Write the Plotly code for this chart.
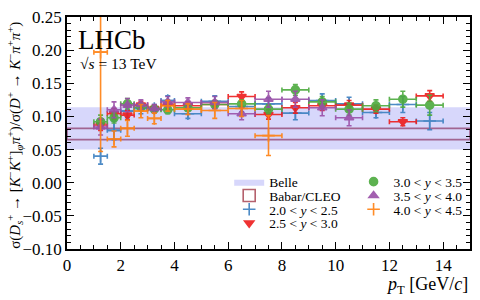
import plotly.graph_objects as go

# pT bins
bin_lo = [1.0, 1.5, 2.0, 2.5, 3.0, 3.5, 4, 5, 6, 7, 8, 9, 10, 11, 12, 13]
bin_hi = [1.5, 2.0, 2.5, 3.0, 3.5, 4.0, 5, 6, 7, 8, 9, 10, 11, 12, 13, 14]

# ratio values per rapidity bin (None = not measured)
y20_25 = [0.040, 0.079, 0.108, 0.112, 0.112, 0.124, 0.104, 0.123, 0.115, 0.119, 0.105, 0.124, 0.119, 0.106, 0.118, 0.093]
e20_25 = [0.012, 0.014, 0.010, 0.008, 0.006, 0.007, 0.007, 0.008, 0.008, 0.009, 0.010, 0.010, 0.010, 0.008, 0.012, 0.013]
y25_30 = [0.087, 0.104, 0.102, 0.117, 0.112, 0.117, 0.116, 0.118, 0.130, 0.103, 0.113, 0.116, 0.117, 0.111, 0.092, 0.131]
e25_30 = [0.008, 0.008, 0.007, 0.006, 0.005, 0.006, 0.006, 0.006, 0.007, 0.007, 0.008, 0.007, 0.007, 0.006, 0.006, 0.008]
y30_35 = [0.092, 0.098, 0.119, 0.114, 0.111, 0.110, 0.113, 0.118, 0.119, 0.111, 0.140, 0.122, 0.111, 0.116, 0.126, 0.117]
e30_35 = [0.010, 0.008, 0.008, 0.005, 0.005, 0.006, 0.005, 0.006, 0.006, 0.007, 0.008, 0.008, 0.009, 0.009, 0.012, 0.015]
y35_40 = [0.084, 0.110, 0.117, 0.118, 0.112, 0.122, 0.121, 0.121, 0.104, 0.126, 0.126, 0.113, 0.098, None, None, None]
e35_40 = [0.012, 0.012, 0.010, 0.007, 0.006, 0.008, 0.007, 0.009, 0.009, 0.012, 0.012, 0.012, 0.012, None, None, None]
y40_45 = [0.197, 0.066, 0.082, 0.108, 0.097, 0.116, 0.111, 0.109, 0.112, 0.071, None, None, None, None, None, None]
e40_45 = [0.150, 0.012, 0.012, 0.010, 0.008, 0.008, 0.008, 0.012, 0.012, 0.030, None, None, None, None, None, None]

# reference measurements (bands)
band_x = [0.0, 15.0]
belle_lo, belle_hi = 0.050, 0.114
babar_lo, babar_hi = 0.065, 0.082

x_range = [0, 15]
y_range = [-0.10, 0.25]

FONT = "Liberation Serif, Times New Roman, serif"

fig = go.Figure()

# Belle band
fig.add_trace(go.Scatter(
    x=[band_x[0], band_x[1], band_x[1], band_x[0], band_x[0]],
    y=[belle_lo, belle_lo, belle_hi, belle_hi, belle_lo],
    fill="toself", fillcolor="rgba(110,110,240,0.28)", mode="lines",
    line=dict(width=0, color="rgba(110,110,240,0.28)"),
    name="Belle", legend="legend", hoverinfo="skip"))
# Babar/CLEO band (outline box)
fig.add_trace(go.Bar(
    x=[(band_x[0] + band_x[1]) / 2], y=[babar_hi - babar_lo], base=[babar_lo],
    width=[band_x[1] - band_x[0]],
    marker=dict(color="rgba(0,0,0,0)", line=dict(width=1.6, color="#b5616d")),
    name="Babar/CLEO", legend="legend2", hoverinfo="skip"))

centers = [(a + b) / 2 for a, b in zip(bin_lo, bin_hi)]
halfw = [(b - a) / 2 for a, b in zip(bin_lo, bin_hi)]

series = [
    ("2.0 &lt; <i>y</i> &lt; 2.5", y20_25, e20_25, "#3a7fc0", "cross-thin", 9, "legend3"),
    ("2.5 &lt; <i>y</i> &lt; 3.0", y25_30, e25_30, "#ee1c1c", "triangle-down", 8, "legend4"),
    ("3.0 &lt; <i>y</i> &lt; 3.5", y30_35, e30_35, "#4caa3e", "circle", 8, "legend5"),
    ("3.5 &lt; <i>y</i> &lt; 4.0", y35_40, e35_40, "#9a4fa8", "triangle-up", 8, "legend6"),
    ("4.0 &lt; <i>y</i> &lt; 4.5", y40_45, e40_45, "#ff8010", "cross-thin", 9, "legend7"),
]

for name, ys, es, col, sym, sz, lg in series:
    xs = [c for c, v in zip(centers, ys) if v is not None]
    xe = [h for h, v in zip(halfw, ys) if v is not None]
    yv = [v for v in ys if v is not None]
    ye = [e for e, v in zip(es, ys) if v is not None]
    fig.add_trace(go.Scatter(
        x=xs, y=yv, mode="markers", name=name, legend=lg,
        marker=dict(symbol=sym, size=sz, color=col, line=dict(width=1.6, color=col)),
        error_x=dict(type="data", array=xe, color=col, thickness=1.6, width=2.5),
        error_y=dict(type="data", array=ye, color=col, thickness=1.6, width=2.5),
        opacity=0.9))

axis_common = dict(
    showline=True, linecolor="black", linewidth=1.5, mirror="ticks",
    ticks="inside", ticklen=7, tickwidth=1.2, tickcolor="black",
    showgrid=False, zeroline=False,
    tickfont=dict(family=FONT, size=17, color="black"),
)

fig.update_xaxes(range=x_range, dtick=2, tick0=0,
                 minor=dict(ticks="inside", ticklen=4, dtick=0.5, tickcolor="black", showgrid=False),
                 **axis_common)
fig.update_yaxes(range=y_range, dtick=0.05, tick0=0, tickformat=".2f",
                 minor=dict(ticks="inside", ticklen=4, dtick=0.01, tickcolor="black", showgrid=False),
                 **axis_common)

L, T, B, R = 67, 14, 51, 8
W, H = 480, 300
PW, PH = W - L - R, H - T - B


def px_x(p):
    return (p - L) / PW


def px_y(p):
    return (H - B - p) / PH


legend_font = dict(family=FONT, size=13.5, color="black")
leg_pos = {
    "legend": (230, 181), "legend2": (230, 195), "legend3": (230, 209), "legend4": (230, 223),
    "legend5": (355, 181), "legend6": (355, 195), "legend7": (355, 209),
}
legends = {}
for key, (lx, ly) in leg_pos.items():
    legends[key] = dict(x=px_x(lx), y=px_y(ly), xanchor="left", yanchor="middle",
                        bgcolor="rgba(0,0,0,0)", font=legend_font, itemwidth=30,
                        tracegroupgap=0)

fig.update_layout(
    width=W, height=H,
    margin=dict(l=L, r=R, t=T, b=B),
    paper_bgcolor="white", plot_bgcolor="white",
    showlegend=True, barmode="overlay",
    **legends,
)

annotations = [
    dict(text="LHCb", x=px_x(76), y=px_y(20), xref="paper", yref="paper", xanchor="left", yanchor="top",
         showarrow=False, font=dict(family=FONT, size=27, color="black")),
    dict(text="√<i>s</i> = 13 TeV", x=px_x(78), y=px_y(61), xref="paper", yref="paper",
         xanchor="left", yanchor="middle", showarrow=False, font=dict(family=FONT, size=15.5, color="black")),
    dict(text="<i>p</i><sub>T</sub> [GeV/<i>c</i>]", x=1.0, y=px_y(286), xref="paper", yref="paper",
         xanchor="right", yanchor="middle", showarrow=False, font=dict(family=FONT, size=18, color="black")),
    dict(text="σ(<i>D</i><sub><i>s</i></sub><sup>+</sup> → [<i>K</i><sup>−</sup><i>K</i><sup>+</sup>]<sub><i>φ</i></sub><i>π</i><sup>+</sup>)/σ(<i>D</i><sup>+</sup> → <i>K</i><sup>−</sup><i>π</i><sup>+</sup><i>π</i><sup>+</sup>)",
         x=px_x(15), y=px_y(134), xref="paper", yref="paper", xanchor="center", yanchor="middle",
         textangle=-90, showarrow=False, font=dict(family=FONT, size=15, color="black")),
]
fig.update_layout(annotations=annotations)

fig.write_html("out.html", config={"displayModeBar": False},
               post_script="document.body.style.margin='0px';document.body.style.padding='0px';")
